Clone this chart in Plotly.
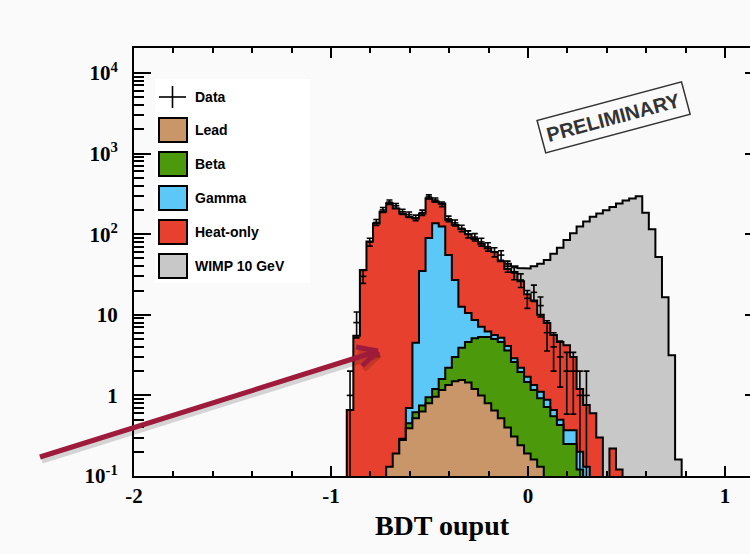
import numpy as np
import plotly.graph_objects as go

# ---------------- data ----------------
bin_lo = -0.92          # lower edge of first bin
bin_w = 1.0 / 30.0      # bin width

# visible stack tops (THStack style): lead < lead+beta < +gamma < +heat-only
lead_top = [0, 0, 0, 0, 0, 0, 0.13, 0.19, 0.28, 0.39, 0.52, 0.63, 0.8, 0.96, 1.17, 1.35, 1.5,
            1.55, 1.45, 1.2, 1.0, 0.8, 0.65, 0.52, 0.4, 0.31, 0.24, 0.19, 0.16, 0.13, 0, 0, 0,
            0, 0, 0, 0, 0, 0, 0, 0, 0, 0, 0, 0, 0, 0, 0, 0, 0, 0]
beta_top = [0, 0, 0, 0, 0, 0, 0, 0, 0.29, 0.45, 0.62, 0.75, 0.95, 1.2, 1.6, 2.2, 3.0,
            3.9, 4.6, 5.1, 5.3, 5.3, 5.0, 4.6, 3.6, 2.6, 1.95, 1.47, 1.17, 0.92, 0.72, 0.55, 0.43,
            0.25, 0.25, 0.12, 0, 0, 0, 0, 0, 0, 0, 0, 0, 0, 0, 0, 0, 0, 0]
gamma_top = [0, 0, 0, 0, 0, 0, 0, 0, 0, 0.7, 4.5, 35, 90, 137, 125, 55, 27,
             12.6, 10.5, 8.6, 7.1, 6.2, 5.6, 5.2, 4.1, 2.9, 2.2, 1.7, 1.35, 1.11, 0.88, 0.66, 0.5,
             0.37, 0.37, 0.2, 0.13, 0, 0, 0, 0, 0, 0, 0, 0, 0, 0, 0, 0, 0, 0]
heat_top = [0.66, 5.5, 36, 81, 136, 190, 242, 209, 181, 165, 157, 181, 279, 255, 240, 150, 130,
            115, 100, 87, 76, 67, 60, 46, 37, 34, 26, 18, 15, 10, 7.9, 5.6, 4.6,
            4.2, 3.0, 1.2, 0.76, 0.6, 0.3, 0, 0.22, 0.12, 0, 0, 0, 0, 0, 0, 0, 0, 0]
wimp = [0, 0, 0, 0, 0, 0, 0, 0, 0, 0, 0, 0, 0, 0, 0, 0, 0,
        0, 30, 38, 44, 48, 48, 44, 43, 40, 38, 37.5, 40, 43, 48, 57, 68,
        85, 103, 125, 144, 165, 180, 198, 217, 240, 262, 278, 295, 185, 115, 52, 16.5, 3.15, 0.16]
data_counts = [1, 8, 30, 80, 140, 200, 250, 225, 190, 175, 160, 185, 290, 265, 235, 155, 138,
               118, 100, 92, 80, 70, 60, 55, 40, 33, 27, 16, 19, 13, 6, 4, 3,
               2, 2, 1, 1, 0, 0, 0, 0, 0, 0, 0, 0, 0, 0, 0, 0, 0, 0]

x_tickvals = [-2, -1, 0, 1]
x_ticktext = ["-2", "-1", "0", "1"]
y_tickvals = [0.1, 1, 10, 100, 1000, 10000]
y_ticktext = ["10<sup>-1</sup>", "1", "10", "10<sup>2</sup>", "10<sup>3</sup>", "10<sup>4</sup>"]

legend_labels = ["Data", "Lead", "Beta", "Gamma", "Heat-only", "WIMP 10 GeV"]

COL_LEAD = "#C99669"
COL_BETA = "#4C9A0C"
COL_GAMMA = "#5BC8F7"
COL_HEAT = "#E8402F"
COL_WIMP = "#C8C8C8"
COL_ARROW = "#9E1B3C"
BG = "#FAFAFA"

# ---------------- geometry ----------------
W, H = 750, 554
L, R, T, B = 134, 750, 48, 476
PW, PH = R - L, B - T


def px(xp):
    return (xp - L) / PW


def py(yp):
    return (B - yp) / PH


nb = len(heat_top)
edges = bin_lo + bin_w * np.arange(nb + 1)
centers = 0.5 * (edges[:-1] + edges[1:])
FLOOR = 1e-3


def step_polygon(vals):
    xs, ys = [edges[0]], [FLOOR]
    for j, v in enumerate(vals):
        vv = v if v > 0 else FLOOR
        xs += [edges[j], edges[j + 1]]
        ys += [vv, vv]
    xs += [edges[-1], edges[0]]
    ys += [FLOOR, FLOOR]
    return xs, ys


fig = go.Figure()
for vals, col in [(wimp, COL_WIMP), (heat_top, COL_HEAT), (gamma_top, COL_GAMMA),
                  (beta_top, COL_BETA), (lead_top, COL_LEAD)]:
    xs, ys = step_polygon(vals)
    fig.add_trace(go.Scatter(x=xs, y=ys, mode="lines", fill="toself", fillcolor=col,
                             line=dict(color="black", width=2), showlegend=False,
                             hoverinfo="skip"))

dc = np.array(data_counts, dtype=float)
m = dc > 0
err = np.sqrt(dc[m])
err_minus = np.minimum(err, dc[m] - 1e-3)
fig.add_trace(go.Scatter(
    x=centers[m], y=dc[m], mode="markers",
    marker=dict(size=2, color="black"),
    error_y=dict(type="data", array=err, arrayminus=err_minus, symmetric=False,
                 color="black", thickness=1.6, width=3),
    error_x=dict(type="constant", value=bin_w / 2, color="black", thickness=1.6, width=0),
    showlegend=False, hoverinfo="skip"))

# dummy trace for right-hand tick stubs
fig.add_trace(go.Scatter(x=[None], y=[None], yaxis="y2", showlegend=False, hoverinfo="skip"))

serif = "Liberation Serif"
fig.update_layout(
    width=W, height=H,
    margin=dict(l=L, r=W - R, t=T, b=H - B, pad=0),
    paper_bgcolor=BG, plot_bgcolor=BG,
    xaxis=dict(range=[-2, -2 + (R - L) / 197.0], tickvals=x_tickvals, ticktext=x_ticktext,
               ticks="inside", ticklen=10, tickwidth=1.5, tickcolor="black",
               minor=dict(ticks="inside", ticklen=5, tickwidth=1.5, dtick=0.2, tick0=0,
                          tickcolor="black", showgrid=False),
               showline=True, linecolor="black", linewidth=2, mirror="ticks",
               showgrid=False, zeroline=False,
               tickfont=dict(family=serif, size=21, color="black", weight="bold"),
               title=dict(text="BDT ouput", standoff=8,
                          font=dict(family=serif, size=28, color="black", weight="bold"))),
    yaxis=dict(type="log", range=[-1, 4.31], tickvals=y_tickvals, ticktext=y_ticktext,
               ticks="inside", ticklen=17, tickwidth=1.5, tickcolor="black",
               minor=dict(ticks="inside", ticklen=10, tickwidth=1.5, tickcolor="black",
                          tickvals=[k * 10.0 ** e for e in range(-1, 5) for k in range(2, 10)],
                          showgrid=False),
               showline=True, linecolor="black", linewidth=2, mirror=False,
               showgrid=False, zeroline=False, ticklabelstandoff=10,
               tickfont=dict(family=serif, size=21, color="black", weight="bold")),
    yaxis2=dict(type="log", range=[-1, 4.31], overlaying="y", side="right",
                tickvals=y_tickvals, ticks="inside", ticklen=5, tickwidth=1.5,
                tickcolor="black", showticklabels=False, showline=False, showgrid=False,
                zeroline=False),
    showlegend=False,
)

shapes = []
annotations = []

# legend box
shapes.append(dict(type="rect", xref="paper", yref="paper", x0=px(155), x1=px(310),
                   y0=py(283), y1=py(79), fillcolor="white", line=dict(width=0), layer="above"))
# data cross
shapes.append(dict(type="line", xref="paper", yref="paper", x0=px(159), x1=px(186),
                   y0=py(97), y1=py(97), line=dict(color="black", width=1.6), layer="above"))
shapes.append(dict(type="line", xref="paper", yref="paper", x0=px(172.5), x1=px(172.5),
                   y0=py(86), y1=py(108), line=dict(color="black", width=1.6), layer="above"))
row_y = [97, 130, 164, 198, 232, 266]
for lab, yc, col in zip(legend_labels, row_y, [None, COL_LEAD, COL_BETA, COL_GAMMA, COL_HEAT, COL_WIMP]):
    if col is not None:
        shapes.append(dict(type="rect", xref="paper", yref="paper", x0=px(159), x1=px(187),
                           y0=py(yc + 12), y1=py(yc - 12), fillcolor=col,
                           line=dict(color="black", width=2), layer="above"))
    annotations.append(dict(xref="paper", yref="paper", x=px(193), y=py(yc), text=lab,
                            showarrow=False, xanchor="left", yanchor="middle",
                            font=dict(family="Liberation Sans", size=14, color="black",
                                      weight="bold")))

# PRELIMINARY stamp
annotations.append(dict(xref="paper", yref="paper", x=px(613), y=py(117), text="PRELIMINARY",
                        showarrow=False, textangle=-15, xanchor="center", yanchor="middle",
                        font=dict(family="Liberation Sans", size=20, color="#333333",
                                  weight="bold"),
                        bordercolor="#333333", borderwidth=1.5, borderpad=5))

# red arrow with soft shadow
tail = (40, 457)
tip = (378, 351)
arm1 = (356, 347)
arm2 = (362, 366)
for dx, dy, colr in [(2, 4, "rgba(0,0,0,0.15)"), (0, 0, COL_ARROW)]:
    for a, b in [(tail, tip), (arm1, tip), (arm2, tip)]:
        shapes.append(dict(type="line", xref="paper", yref="paper",
                           x0=px(a[0] + dx), y0=py(a[1] + dy), x1=px(b[0] + dx), y1=py(b[1] + dy),
                           line=dict(color=colr, width=5), layer="above"))

fig.update_layout(shapes=shapes, annotations=annotations)
fig.write_html("out.html")
